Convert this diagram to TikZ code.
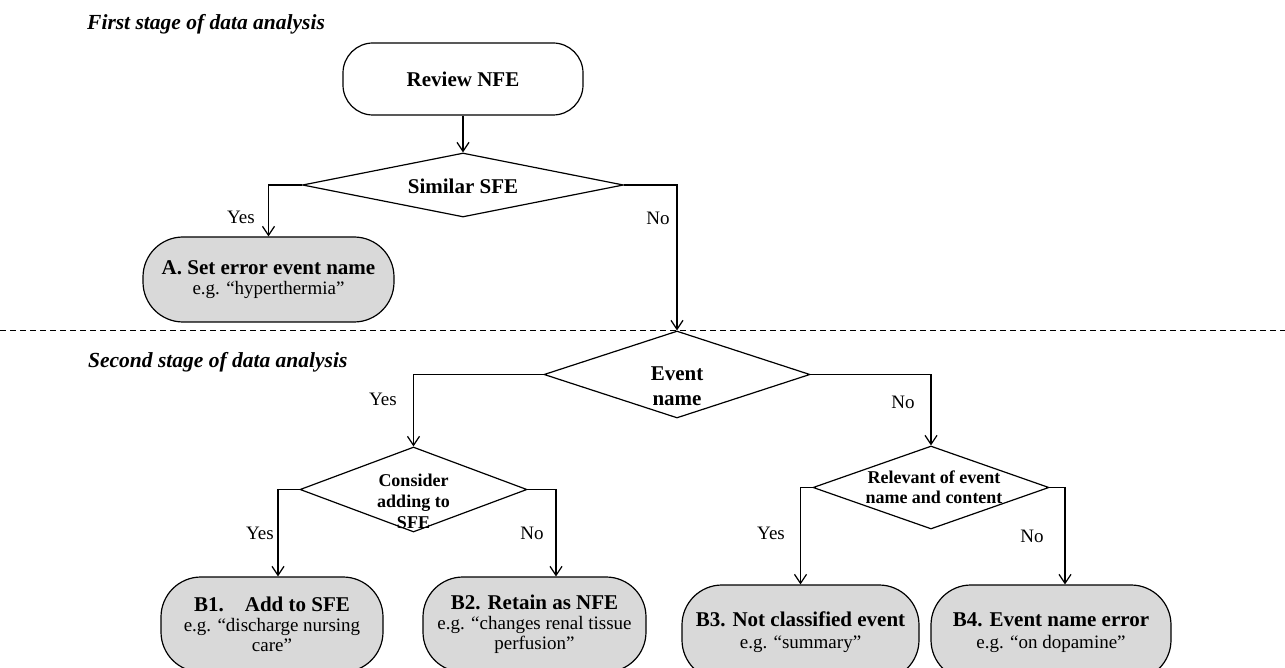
\documentclass[tikz,border=0pt]{standalone}
\usepackage{fontspec}
\setmainfont{Liberation Serif}
\usetikzlibrary{shapes.geometric,arrows.meta}
\definecolor{boxgray}{RGB}{217,217,217}
\tikzset{
  lw/.style={line width=1.2pt},
  startbox/.style={draw, lw, rounded corners=30pt, minimum width=240pt, minimum height=72pt, inner sep=0pt, font=\fontsize{21}{24}\selectfont\bfseries},
  endbox/.style={draw, lw, fill=boxgray, rounded corners=40pt, inner sep=0pt, align=center, font=\fontsize{19}{20}\selectfont},
  endboxb/.style={endbox, font=\fontsize{19}{22}\selectfont},
  dia/.style={draw, lw, shape=diamond, inner sep=0pt},
  dtext/.style={inner sep=0pt, align=center},
  lbl/.style={inner sep=0pt, font=\fontsize{19}{20}\selectfont},
  stage/.style={inner sep=0pt, font=\fontsize{21.5}{24}\selectfont\bfseries\itshape},
  arr/.style={lw, -{Straight Barb[length=9pt,width=12pt]}},
  sep/.style={line width=1pt, dash pattern=on 6pt off 4pt}
}
\newcommand\bhead{\fontsize{21}{20}\selectfont\bfseries}
\begin{document}
\begin{tikzpicture}[x=1pt,y=-1pt]
\useasboundingbox (0,0) rectangle (1285,668);
% stage titles and separator
\node[stage, anchor=base west] (s1) at (87,30) {First stage of data analysis};
\node[stage, anchor=base west] (s2) at (88,367) {Second stage of data analysis};
\coordinate (dl) at (0,330);
\coordinate (dr) at (1285,330);
\draw[sep] (dl) -- (dr);
% first stage
\node[startbox] (review) at (463,79) {Review NFE};
\node[dia, minimum width=321pt, minimum height=64pt] (sim) at (463,185) {};
\node[dtext, font=\fontsize{21}{24}\selectfont\bfseries] (simt) at (463,186) {Similar SFE};
\node[endbox, minimum width=251pt, minimum height=85pt] (A) at (268.5,279.5) {{\bhead A. Set error event name}\\e.g. “hyperthermia”};
% second stage diamonds
\node[dia, minimum width=266pt, minimum height=87pt] (event) at (677,374.5) {};
\node[dtext, font=\fontsize{21}{25}\selectfont\bfseries] (eventt) at (677,386) {Event\\name};
\node[dia, minimum width=227pt, minimum height=85pt] (consider) at (413.5,489.5) {};
\node[dtext, font=\fontsize{18}{21}\selectfont\bfseries] (considert) at (413.5,501) {Consider\\adding to\\SFE};
\node[dia, minimum width=236pt, minimum height=83pt] (relevant) at (931,487.5) {};
\node[dtext, font=\fontsize{18}{20}\selectfont\bfseries] (relevantt) at (934,487) {Relevant of event\\name and content};
% end boxes
\node[endbox, minimum width=222pt, minimum height=95pt] (B1) at (272,624.5) {{\bhead B1.\quad Add to SFE}\\e.g. “discharge nursing\\care”};
\node[endbox, minimum width=223pt, minimum height=95pt] (B2) at (534.5,624.5) {{\bhead B2. Retain as NFE}\\e.g. “changes renal tissue\\perfusion”};
\node[endboxb, minimum width=237pt, minimum height=95pt] (B3) at (800.5,632.5) {{\bhead B3. Not classified event}\\e.g. “summary”};
\node[endboxb, minimum width=240pt, minimum height=95pt] (B4) at (1051,632.5) {{\bhead B4. Event name error}\\e.g. “on dopamine”};
% branch columns
\coordinate (c1) at (278,0);
\coordinate (c2) at (556,0);
\coordinate (c4) at (1065,0);
% connectors
\draw[arr] (review.south) -- (sim.north);
\draw[arr] (sim.west) -| (A.north);
\draw[arr] (sim.east) -| (event.north);
\draw[arr] (event.west) -| (consider.north);
\draw[arr] (event.east) -| (relevant.north);
\draw[arr] (consider.west) -| (c1 |- B1.north);
\draw[arr] (consider.east) -| (c2 |- B2.north);
\draw[arr] (relevant.west) -| (B3.north);
\draw[arr] (relevant.east) -| (c4 |- B4.north);
% labels
\node[lbl] (y1) at (241,217) {Yes};
\node[lbl] (n1) at (658,218) {No};
\node[lbl] (y2) at (383,399) {Yes};
\node[lbl] (n2) at (903,402) {No};
\node[lbl] (y3) at (260,533) {Yes};
\node[lbl] (n3) at (532,533) {No};
\node[lbl] (y4) at (771,533) {Yes};
\node[lbl] (n4) at (1032,536) {No};
\end{tikzpicture}
\end{document}
